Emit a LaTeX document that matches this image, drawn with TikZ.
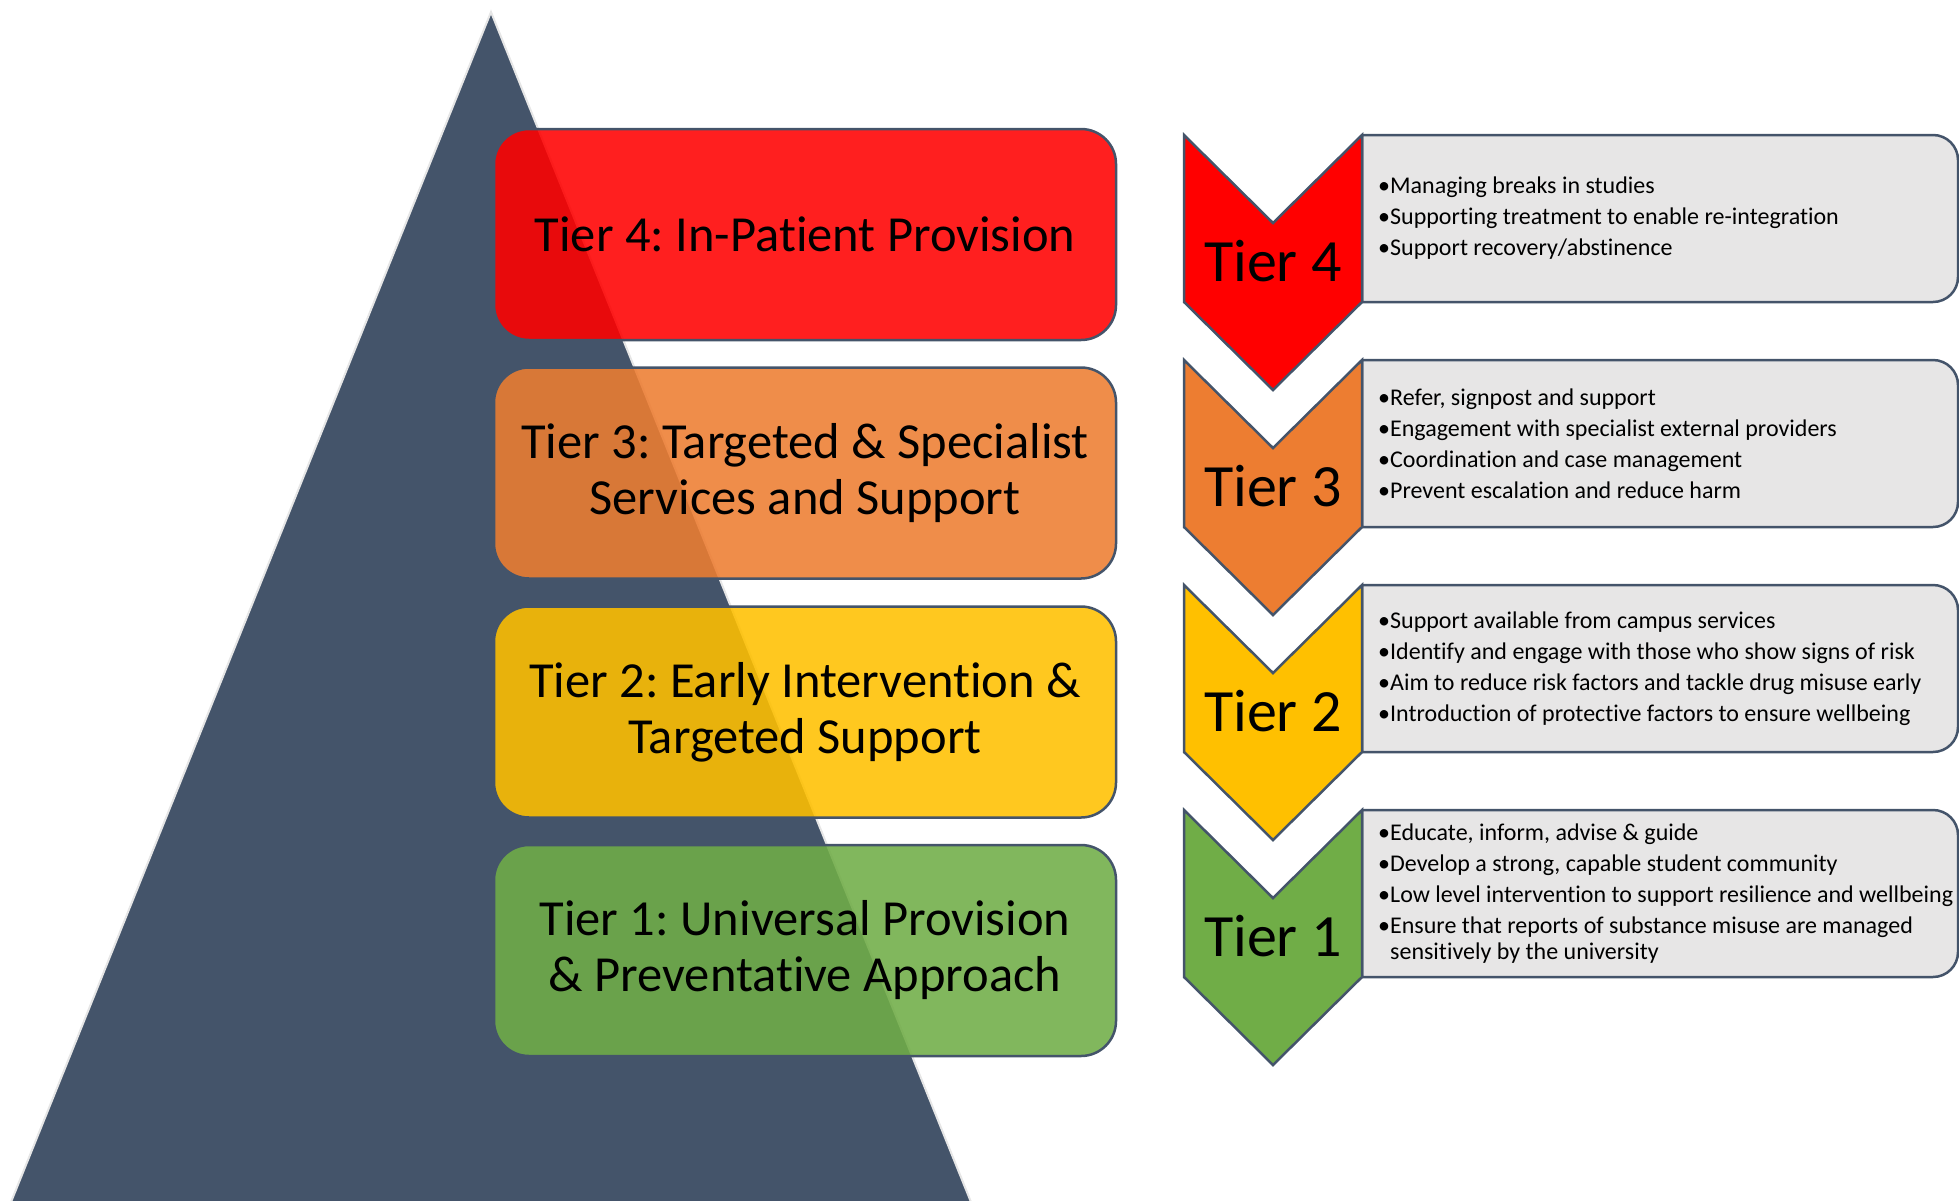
\documentclass[tikz,border=0pt]{standalone}
\usepackage{fontspec}
\setmainfont{Carlito}[Ligatures={NoCommon}]
\definecolor{slate}{HTML}{44546A}
\definecolor{lgray}{HTML}{E7E6E6}
\definecolor{tred}{HTML}{FF0000}
\definecolor{torange}{HTML}{ED7D31}
\definecolor{tyellow}{HTML}{FFC000}
\definecolor{tgreen}{HTML}{70AD47}
\definecolor{triedge}{HTML}{E6E6E6}
\newcommand\mygraybox[1]{\draw[graybox] (1362,#1) -- (1933,#1) arc(-90:0:25) -- (1958,#1+142) arc(0:90:25) -- (1362,#1+167) -- cycle;}
\newcommand\mychev[2]{\draw[chev, fill=#2] (1184,#1) -- (1273,#1+88) -- (1362,#1) -- (1362,#1+167) -- (1273,#1+255) -- (1184,#1+167) -- cycle;}
\begin{document}
\frenchspacing
\begin{tikzpicture}[x=1pt,y=-1pt,
  tierbox/.style={draw=slate, line width=2.5pt, rounded corners=35pt, fill opacity=0.88, text opacity=1,
    minimum width=622pt, minimum height=211pt, align=center, inner sep=0pt,
    font=\fontsize{50.5}{56}\selectfont},
  graybox/.style={draw=slate, line width=2.5pt, fill=lgray},
  chev/.style={draw=slate, line width=2.5pt, line join=miter},
  chevlabel/.style={font=\fontsize{60}{72}\selectfont, inner sep=0pt},
  bullets/.style={anchor=west, align=left, inner sep=0pt, font=\fontsize{24}{31}\selectfont}]
\useasboundingbox (0,0) rectangle (1959,1200);
% pyramid
\fill[slate] (491,12) -- (975,1212) -- (7,1212) -- cycle;
\draw[triedge, line width=2pt] (7,1212) -- (491,12) -- (975,1212);
% left tier boxes
\node[tierbox, fill=tred]    (t4) at (805,234.5) {Tier 4: In-Patient Provision};
\node[tierbox, fill=torange] (t3) at (805,473)   {Tier 3: Targeted \& Specialist\\Services and Support};
\node[tierbox, fill=tyellow] (t2) at (805,712)   {Tier 2: Early Intervention \&\\Targeted Support};
\node[tierbox, fill=tgreen]  (t1) at (805,950.5) {Tier 1: Universal Provision\\\& Preventative Approach};
% right gray boxes
\mygraybox{135}
\mygraybox{360}
\mygraybox{585}
\mygraybox{810}
% chevrons
\mychev{135}{tred}
\mychev{360}{torange}
\mychev{585}{tyellow}
\mychev{810}{tgreen}
\node[chevlabel] (c4) at (1273,261) {Tier 4};
\node[chevlabel] (c3) at (1273,486) {Tier 3};
\node[chevlabel] (c2) at (1273,711) {Tier 2};
\node[chevlabel] (c1) at (1273,936) {Tier 1};
% bullet texts
\node[bullets] (b4) at (1378,218.5) {•Managing breaks in studies\\•Supporting treatment to enable re-integration\\•Support recovery/abstinence};
\node[bullets] (b3) at (1378,443.5) {•Refer, signpost and support\\•Engagement with specialist external providers\\•Coordination and case management\\•Prevent escalation and reduce harm};
\node[bullets] (b2) at (1378,668.5) {•Support available from campus services\\•Identify and engage with those who show signs of risk\\•Aim to reduce risk factors and tackle drug misuse early\\•Introduction of protective factors to ensure wellbeing};
\node[bullets] (b1) at (1378,893.5) {•Educate, inform, advise \& guide\\•Develop a strong, capable student community\\•Low level intervention to support resilience and wellbeing\\•Ensure that reports of substance misuse are managed\\[-5pt]\phantom{•}sensitively by the university};
\end{tikzpicture}
\end{document}
